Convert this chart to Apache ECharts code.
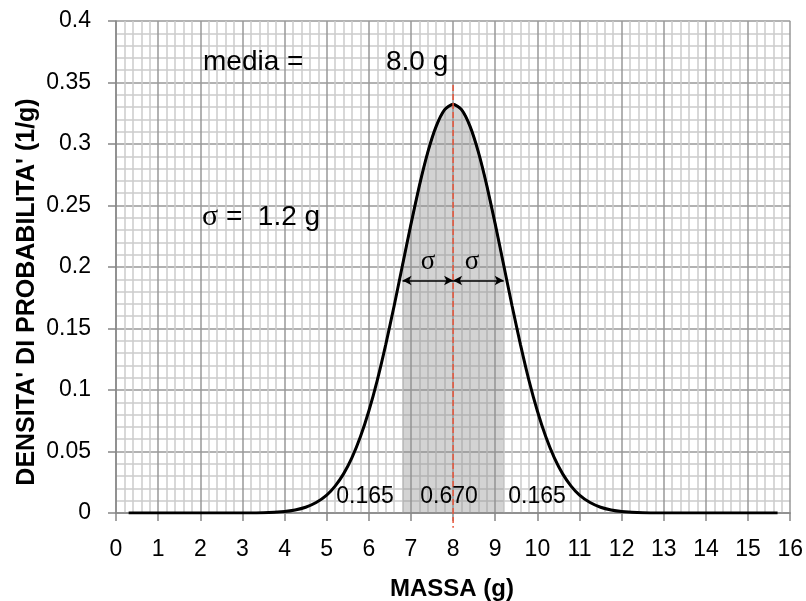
<!DOCTYPE html>
<html><head><meta charset="utf-8">
<script src="https://cdn.jsdelivr.net/npm/echarts@6/dist/echarts.min.js"></script>
<style>html,body{margin:0;padding:0;background:#fff}#c{width:806px;height:601px}</style>
</head><body><div id="c"></div>
<script>
// ---- data ----
const massX = [0.3, 1, 2, 3, 3.5, 4, 4.25, 4.5, 4.75, 5,
  5.2, 5.4, 5.6, 5.8, 6, 6.2, 6.4, 6.6, 6.8, 7,
  7.2, 7.4, 7.6, 7.8, 8, 8.2, 8.4, 8.6, 8.8, 9,
  9.2, 9.4, 9.6, 9.8, 10, 10.2, 10.4, 10.6, 10.8, 11,
  11.25, 11.5, 11.75, 12, 12.5, 13, 14, 15, 15.7];
const density = [0, 0, 0, 0.0001, 0.0003, 0.0013, 0.0025, 0.0047, 0.0085, 0.0146,
  0.0219, 0.0318, 0.0450, 0.0619, 0.0829, 0.1079, 0.1367, 0.1683, 0.2016, 0.2349,
  0.2662, 0.2934, 0.3145, 0.3279, 0.3324, 0.3279, 0.3145, 0.2934, 0.2662, 0.2349,
  0.2016, 0.1683, 0.1367, 0.1079, 0.0829, 0.0619, 0.0450, 0.0318, 0.0219, 0.0146,
  0.0085, 0.0047, 0.0025, 0.0013, 0.0003, 0.0001, 0, 0, 0];
const meanValue = 8.0;
const sigmaValue = 1.2;
const meanLineTop = 0.348;
const meanLineBottom = -0.012;
const sigmaArrowY = 0.189;
const areaLabels = ['0.165', '0.670', '0.165'];
const xTickLabels = ['0','1','2','3','4','5','6','7','8','9','10','11','12','13','14','15','16'];
const yTickLabels = ['0','0.05','0.1','0.15','0.2','0.25','0.3','0.35','0.4'];

const FONT = 'Liberation Sans';
const curveData = massX.map((x, i) => [x, density[i]]);
const fillData = curveData.filter(p => p[0] >= meanValue - sigmaValue - 1e-9 && p[0] <= meanValue + sigmaValue + 1e-9);

const chart = echarts.init(document.getElementById('c'), null, {renderer: 'canvas'});
const axisCommon = {
  axisLine: {show: true, onZero: false, lineStyle: {color: '#868686', width: 1.5}},
  axisTick: {show: true, inside: false, length: 8, lineStyle: {color: '#868686', width: 1.5}},
  splitLine: {show: true, lineStyle: {color: '#989898', width: 1.5}},
  minorTick: {show: false, splitNumber: 5},
  minorSplitLine: {show: true, lineStyle: {color: '#cccccc', width: 1.5}}
};
chart.setOption({
  animation: false,
  backgroundColor: '#fff',
  grid: {left: 116, right: 15, top: 21, bottom: 88, containLabel: false},
  xAxis: Object.assign({
    type: 'value', min: 0, max: 16, interval: 1,
    axisLabel: {fontSize: 23, fontFamily: FONT, color: '#000', margin: 25,
      formatter: v => xTickLabels[Math.round(v)]}
  }, axisCommon),
  yAxis: Object.assign({
    type: 'value', min: 0, max: 0.4, interval: 0.05,
    axisLabel: {fontSize: 23, fontFamily: FONT, color: '#000', margin: 25,
      formatter: v => yTickLabels[Math.round(v / 0.05)]}
  }, axisCommon),
  series: [
    {
      type: 'line', data: fillData, symbol: 'none', smooth: 0.2,
      lineStyle: {color: '#7a7a7a', width: 2},
      areaStyle: {color: 'rgba(140,140,140,0.55)'},
      z: 2
    },
    {
      type: 'line', data: curveData, symbol: 'none', smooth: 0.2,
      lineStyle: {color: '#000', width: 3},
      z: 3
    },
    {
      type: 'line', data: [[meanValue, meanLineTop], [meanValue, meanLineBottom]],
      symbol: 'none', clip: false,
      lineStyle: {color: '#E8553A', width: 1.5, type: [6, 3]},
      z: 5
    },
    {
      type: 'line', data: [], symbol: 'none',
      markLine: {
        silent: true, animation: false,
        symbol: ['arrow', 'arrow'], symbolSize: [7, 9],
        lineStyle: {color: '#000', width: 1.5, type: 'solid'},
        label: {show: false},
        data: [
          [{coord: [meanValue - sigmaValue, sigmaArrowY]}, {coord: [meanValue, sigmaArrowY]}],
          [{coord: [meanValue, sigmaArrowY]}, {coord: [meanValue + sigmaValue, sigmaArrowY]}]
        ]
      },
      z: 6
    }
  ]
});

const txt = (x, y, text, opts) => Object.assign({
  type: 'text', x: x, y: y, silent: true, z: 100,
  style: Object.assign({text: text, fill: '#000', font: '28px "' + FONT + '"',
    align: 'left', verticalAlign: 'middle'}, opts || {})
});
chart.setOption({
  graphic: [
    txt(203, 62, 'media ='),
    txt(386, 62, meanValue.toFixed(1) + ' g'),
    txt(202, 217, '{s|σ} =  ' + sigmaValue.toFixed(1) + ' g', {
      rich: {s: {font: '30px "Liberation Serif"', fill: '#000'}}}),
    txt(428, 262, 'σ', {font: '27px "Liberation Serif"', align: 'center'}),
    txt(472, 262, 'σ', {font: '27px "Liberation Serif"', align: 'center'}),
    txt(365, 497, areaLabels[0], {font: '23px "' + FONT + '"', align: 'center'}),
    txt(449, 497, areaLabels[1], {font: '23px "' + FONT + '"', align: 'center'}),
    txt(537, 497, areaLabels[2], {font: '23px "' + FONT + '"', align: 'center'}),
    {type: 'text', x: 27, y: 292, rotation: Math.PI / 2, silent: true,
      style: {text: "DENSITA' DI PROBABILITA' (1/g)", fill: '#000',
        font: 'bold 25px "' + FONT + '"', align: 'center', verticalAlign: 'middle'}},
    txt(452, 589, 'MASSA (g)', {font: 'bold 24px "' + FONT + '"', align: 'center'})
  ]
});
</script>
</body></html>
